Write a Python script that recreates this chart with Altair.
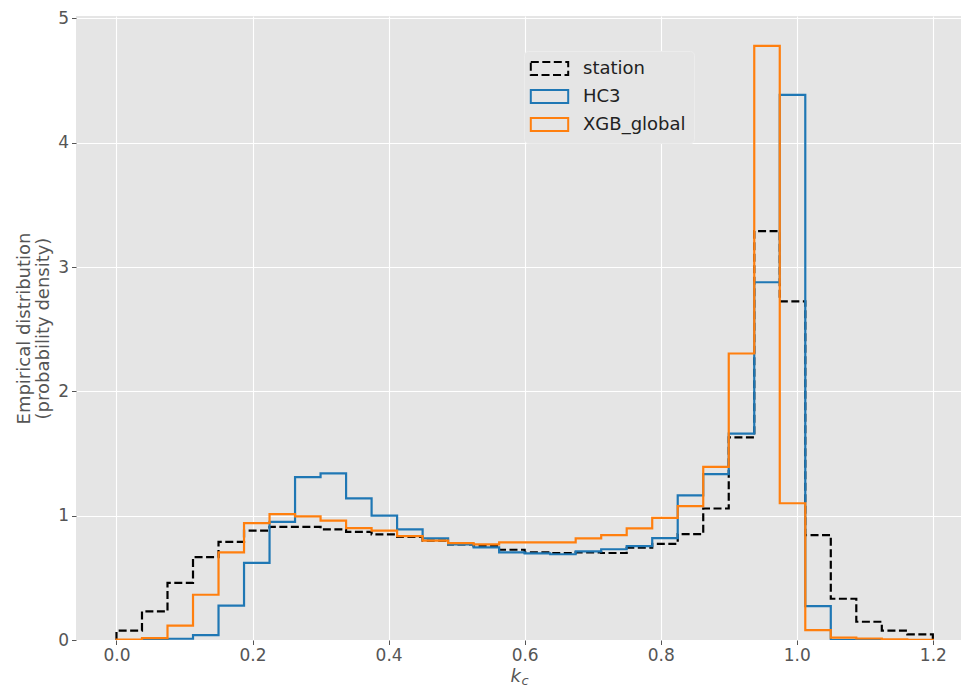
import numpy as np
import pandas as pd
import altair as alt

# Histogram bins on k_c (32 equal bins from 0 to 1.2)
bin_edges = np.linspace(0.0, 1.2, 33)

series_names = ["station", "HC3", "XGB_global"]
series_colors = ["#000000", "#1f77b4", "#ff7f0e"]
series_dashes = [[8, 3.5], [1, 0], [1, 0]]

station = [0.075, 0.23, 0.46, 0.667, 0.79, 0.88, 0.91, 0.91, 0.89, 0.87, 0.85, 0.83,
           0.80, 0.77, 0.755, 0.726, 0.705, 0.70, 0.705, 0.70, 0.742, 0.774, 0.852, 1.058,
           1.63, 3.29, 2.725, 0.844, 0.332, 0.147, 0.075, 0.046]
hc3 = [0.0, 0.002, 0.01, 0.04, 0.276, 0.62, 0.95, 1.31, 1.34, 1.14, 1.00, 0.89,
       0.817, 0.77, 0.745, 0.705, 0.697, 0.69, 0.713, 0.73, 0.755, 0.82, 1.163, 1.334,
       1.66, 2.878, 4.385, 0.273, 0.0, 0.0, 0.0, 0.0]
xgb_global = [0.004, 0.015, 0.115, 0.364, 0.705, 0.94, 1.013, 0.994, 0.96, 0.90, 0.88, 0.836,
              0.80, 0.78, 0.77, 0.785, 0.785, 0.785, 0.817, 0.844, 0.898, 0.983, 1.077, 1.393,
              2.305, 4.78, 1.10, 0.08, 0.019, 0.012, 0.005, 0.002]

densities = {"station": station, "HC3": hc3, "XGB_global": xgb_global}


def step_outline(name, values):
    """Vertices of an unfilled step histogram: up from 0, across each bin, back down to 0."""
    xs = [bin_edges[0]]
    ys = [0.0]
    for i, v in enumerate(values):
        xs += [bin_edges[i], bin_edges[i + 1]]
        ys += [v, v]
    xs.append(bin_edges[-1])
    ys.append(0.0)
    return pd.DataFrame({"series": name, "x": xs, "density": ys, "order": range(len(xs))})


df = pd.concat([step_outline(n, densities[n]) for n in series_names], ignore_index=True)

W, H = 885, 624
grey = "#555555"

# Legend with outlined rectangles as patch symbols
legend_style = dict(
    title=None, orient="none", legendX=448, legendY=35,
    symbolType="M-2.2,-0.76L2.2,-0.76L2.2,0.76L-2.2,0.76Z",
    symbolSize=289, symbolStrokeWidth=2, symbolFillColor="transparent",
    symbolOffset=8,
    labelFontSize=18, labelColor="#222222", labelFont="DejaVu Sans",
    labelOffset=24, rowPadding=7, padding=8,
    fillColor="#e5e5e5", strokeColor="#ececec", cornerRadius=4,
)

base = alt.Chart(df).mark_line(strokeWidth=2.2, clip=True).encode(
    x=alt.X("x:Q", scale=alt.Scale(domain=[-0.0595, 1.2414], nice=False, zero=False),
            axis=alt.Axis(values=[0.0, 0.2, 0.4, 0.6, 0.8, 1.0, 1.2], format=".1f", title=None)),
    y=alt.Y("density:Q", scale=alt.Scale(domain=[0, 5.02], nice=False),
            axis=alt.Axis(values=[0, 1, 2, 3, 4, 5], format="d",
                          title=["Empirical distribution", "(probability density)"])),
    order="order:Q",
    color=alt.Color("series:N", sort=series_names,
                    scale=alt.Scale(domain=series_names, range=series_colors),
                    legend=alt.Legend(**legend_style)),
    strokeDash=alt.StrokeDash("series:N", sort=series_names,
                              scale=alt.Scale(domain=series_names, range=series_dashes),
                              legend=alt.Legend(**legend_style)),
)

lines = alt.layer(*[base.transform_filter(alt.datum.series == n) for n in series_names])

# x-axis label: italic k with subscript c
k_label = alt.Chart(pd.DataFrame({"t": ["k"]})).mark_text(
    fontSize=18, fontStyle="italic", color=grey, align="right", baseline="alphabetic",
    font="DejaVu Sans"
).encode(text="t:N", x=alt.value(445), y=alt.value(666))
c_label = alt.Chart(pd.DataFrame({"t": ["c"]})).mark_text(
    fontSize=13, fontStyle="italic", color=grey, align="left", baseline="alphabetic",
    font="DejaVu Sans"
).encode(text="t:N", x=alt.value(445.5), y=alt.value(669))

chart = alt.layer(lines, k_label, c_label).properties(
    width=W, height=H,
    autosize=alt.AutoSizeParams(type="none"),
    padding={"left": 76, "top": 16, "right": 0, "bottom": 51},
    background="white",
).configure_view(
    fill="#e5e5e5", stroke=None
).configure_axis(
    labelFont="DejaVu Sans", titleFont="DejaVu Sans",
    labelFontSize=17, labelColor=grey, titleFontSize=18, titleColor=grey,
    titleFontWeight="normal", grid=True, gridColor="white", gridWidth=1.1,
    domain=False, tickColor=grey, tickSize=4.5, tickWidth=1, labelPadding=3,
).configure_axisY(
    titlePadding=5, titleLineHeight=19
)

chart.save("out.html", embed_options={"renderer": "svg", "actions": False})
